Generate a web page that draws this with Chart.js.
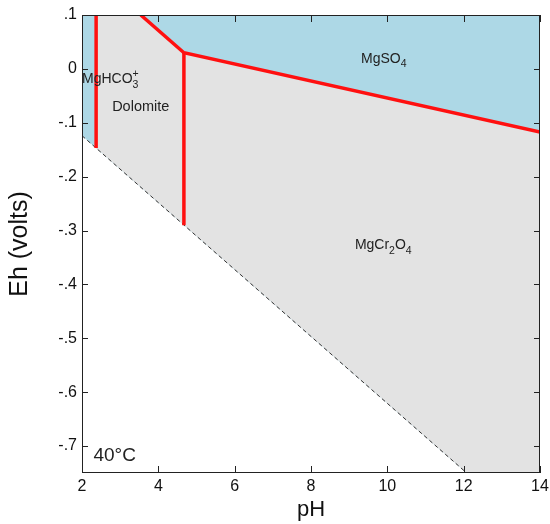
<!DOCTYPE html>
<html>
<head>
<meta charset="utf-8">
<script src="https://cdn.jsdelivr.net/npm/chart.js@4/dist/chart.umd.min.js"></script>
<style>
  body { margin: 0; background: #fff; }
  #wrap { width: 550px; height: 524px; }
</style>
</head>
<body>
<div id="wrap"><canvas id="eh_chart"></canvas></div>
<script>
// axis ticks
const ph_ticks = [2, 4, 6, 8, 10, 12, 14];
const eh_ticks = [0.1, 0, -0.1, -0.2, -0.3, -0.4, -0.5, -0.6, -0.7];
const eh_tick_labels = [".1", "0", "-.1", "-.2", "-.3", "-.4", "-.5", "-.6", "-.7"];

// lower stability limit of water (dashed)
const water_ph = [2, 12.08];
const water_eh = [-0.124, -0.75];

// red field boundaries
const hco3_ph = [2.37, 2.37];       // MgHCO3+ / Dolomite
const hco3_eh = [0.1, -0.147];
const so4_ph = [3.54, 4.67, 14];    // MgSO4 / Dolomite, MgCr2O4
const so4_eh = [0.1, 0.03, -0.117];
const cr_ph = [4.67, 4.67];         // Dolomite / MgCr2O4
const cr_eh = [0.03, -0.29];

const x_min = 2, x_max = 14, y_min = -0.75, y_max = 0.1;

const FONT = '"Liberation Sans", Arial, sans-serif';
const BLUE = "#add8e6";
const GRAY = "#e3e3e3";
const RED = "#ff1010";

function pts(xs, ys) {
  return xs.map((x, i) => ({ x: x, y: ys[i] }));
}

// gray field (dolomite + MgCr2O4): right of the MgHCO3+ line, above water
const gray_pts = [
  { x: hco3_ph[1], y: hco3_eh[1] },
  { x: water_ph[1], y: water_eh[1] },
  { x: x_max, y: y_min },
];

const field_labels = [
  { x: 2.0, y: -0.027, parts: [["MgHCO", 0], ["3", -1], ["+", 1]], size: 14 },
  { x: 2.79, y: -0.078, parts: [["Dolomite", 0]], size: 14.5 },
  { x: 9.31, y: 0.011, parts: [["MgSO", 0], ["4", -1]], size: 14 },
  { x: 9.15, y: -0.335, parts: [["MgCr", 0], ["2", -1], ["O", 0], ["4", -1]], size: 14 },
  { x: 2.3, y: -0.727, parts: [["40°C", 0]], size: 19 },
];

// blue background for the chart area (MgHCO3+ and MgSO4 fields)
const bg_plugin = {
  id: "bg",
  beforeDatasetsDraw(chart) {
    const a = chart.chartArea;
    chart.ctx.save();
    chart.ctx.fillStyle = BLUE;
    chart.ctx.fillRect(a.left, a.top, a.right - a.left, a.bottom - a.top);
    chart.ctx.restore();
  },
};

// box, inside ticks on all four sides, field names
const frame_plugin = {
  id: "frame",
  afterDatasetsDraw(chart) {
    const ctx = chart.ctx;
    const a = chart.chartArea;
    const xs = chart.scales.x, ys = chart.scales.y;
    ctx.save();
    ctx.strokeStyle = "#222";
    ctx.lineWidth = 1;
    ctx.strokeRect(a.left + 0.5, a.top + 0.5, a.right - a.left - 1, a.bottom - a.top - 1);
    ctx.beginPath();
    ph_ticks.forEach((v) => {
      const px = Math.round(xs.getPixelForValue(v)) + 0.5;
      ctx.moveTo(px, a.bottom); ctx.lineTo(px, a.bottom - 7);
      ctx.moveTo(px, a.top); ctx.lineTo(px, a.top + 7);
    });
    eh_ticks.forEach((v) => {
      const py = Math.round(ys.getPixelForValue(v)) + 0.5;
      ctx.moveTo(a.left, py); ctx.lineTo(a.left + 6, py);
      ctx.moveTo(a.right, py); ctx.lineTo(a.right - 6, py);
    });
    ctx.stroke();

    ctx.fillStyle = "#222";
    ctx.textBaseline = "alphabetic";
    ctx.textAlign = "left";
    field_labels.forEach((lab) => {
      let px = xs.getPixelForValue(lab.x);
      const py = ys.getPixelForValue(lab.y);
      let last_w = 0;
      lab.parts.forEach(([t, pos]) => {
        if (pos === 0) {
          ctx.font = lab.size + "px " + FONT;
          ctx.fillText(t, px, py);
          px += ctx.measureText(t).width;
        } else if (pos === -1) {
          ctx.font = lab.size * 0.75 + "px " + FONT;
          ctx.fillText(t, px, py + lab.size * 0.3);
          last_w = ctx.measureText(t).width;
          px += last_w;
        } else {
          ctx.font = lab.size * 0.75 + "px " + FONT;
          ctx.fillText(t, px - last_w, py - lab.size * 0.45);
        }
      });
    });
    ctx.restore();
  },
};

const eh_ctx = document.getElementById("eh_chart");

const eh_chart = new Chart(eh_ctx, {
  type: "line",
  data: {
    datasets: [
      { data: pts(water_ph, water_eh), fill: "start", backgroundColor: "#ffffff", borderWidth: 0, order: 7 },
      { data: gray_pts, fill: "end", backgroundColor: GRAY, borderWidth: 0, order: 6 },
      { data: pts(so4_ph, so4_eh), fill: "end", backgroundColor: BLUE, borderWidth: 0, order: 5 },
      { data: pts(water_ph, water_eh), borderColor: "#333", borderWidth: 1, borderDash: [4, 3], order: 3 },
      { data: pts(hco3_ph, hco3_eh), borderColor: RED, borderWidth: 3.5, order: 1 },
      { data: pts(so4_ph, so4_eh), borderColor: RED, borderWidth: 3.5, order: 1 },
      { data: pts(cr_ph, cr_eh), borderColor: RED, borderWidth: 3.5, order: 1 },
    ],
  },
  options: {
    responsive: true,
    maintainAspectRatio: false,
    animation: false,
    elements: { point: { radius: 0 }, line: { tension: 0 } },
    layout: { padding: { top: 15, right: 10, left: 0, bottom: 0 } },
    plugins: {
      legend: { display: false },
      tooltip: { enabled: false },
    },
    scales: {
      x: {
        type: "linear",
        min: x_min,
        max: x_max,
        afterBuildTicks: (s) => { s.ticks = ph_ticks.map((v) => ({ value: v })); },
        afterFit: (s) => { s.height = 51; s.paddingLeft = 0; s.paddingRight = 0; },
        grid: { display: false, drawTicks: false },
        border: { display: false },
        ticks: { padding: 4, color: "#111", font: { family: FONT, size: 16 }, maxRotation: 0 },
        title: { display: true, text: "pH", color: "#111", font: { family: FONT, size: 22 }, padding: { top: 0, bottom: 1 } },
      },
      y: {
        type: "linear",
        min: y_min,
        max: y_max,
        afterBuildTicks: (s) => { s.ticks = eh_ticks.map((v) => ({ value: v })); },
        afterFit: (s) => { s.width = 82; },
        grid: { display: false, drawTicks: false },
        border: { display: false },
        ticks: {
          padding: 5,
          color: "#111",
          font: { family: FONT, size: 16 },
          callback: (value, index) => eh_tick_labels[index],
        },
        title: { display: true, text: "Eh (volts)", color: "#111", font: { family: FONT, size: 25 }, padding: { top: 5, bottom: 0 } },
      },
    },
  },
  plugins: [bg_plugin, frame_plugin],
});
</script>
</body>
</html>
